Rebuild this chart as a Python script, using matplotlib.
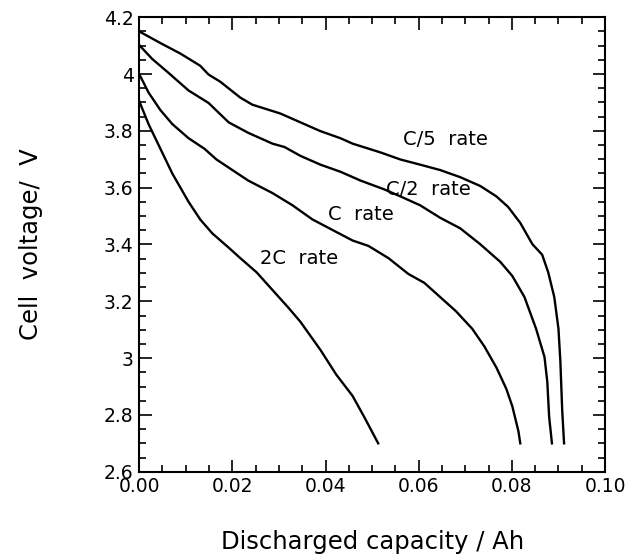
import matplotlib
matplotlib.use("Agg")
import matplotlib.pyplot as plt
from matplotlib.ticker import MultipleLocator, FormatStrFormatter, FuncFormatter

# discharge curves (capacity Ah, voltage V)
c5_x = [0.0, 0.00455, 0.00884, 0.0131, 0.0149, 0.0174, 0.0217, 0.0243, 0.0303, 0.0346,
        0.0389, 0.0432, 0.0458, 0.0518, 0.0561, 0.0603, 0.0646, 0.0689, 0.0732, 0.0767,
        0.0792, 0.0818, 0.0844, 0.0865, 0.0878, 0.0891, 0.0900, 0.0904, 0.0908, 0.0912]
c5_y = [4.150, 4.109, 4.072, 4.029, 3.998, 3.973, 3.917, 3.892, 3.861, 3.830,
        3.799, 3.774, 3.755, 3.724, 3.699, 3.681, 3.662, 3.637, 3.606, 3.569,
        3.532, 3.476, 3.401, 3.364, 3.302, 3.215, 3.103, 2.991, 2.817, 2.700]

c2_x = [0.0, 0.0028, 0.0063, 0.0106, 0.0149, 0.0192, 0.0234, 0.0286, 0.0312, 0.0346,
        0.0389, 0.0432, 0.0475, 0.0526, 0.0561, 0.0603, 0.0646, 0.0689, 0.0732, 0.0775,
        0.0801, 0.0827, 0.0852, 0.0870, 0.0876, 0.0880, 0.0886]
c2_y = [4.102, 4.053, 4.004, 3.942, 3.898, 3.830, 3.793, 3.755, 3.743, 3.712,
        3.681, 3.656, 3.625, 3.594, 3.569, 3.538, 3.494, 3.457, 3.401, 3.339,
        3.289, 3.215, 3.103, 3.004, 2.917, 2.793, 2.700]

c1_x = [0.0, 0.002, 0.00455, 0.0071, 0.0106, 0.0140, 0.0166, 0.0200, 0.0234, 0.0286,
        0.0329, 0.0372, 0.0415, 0.0458, 0.0492, 0.0535, 0.0578, 0.0612, 0.0646, 0.0680,
        0.0715, 0.0741, 0.0767, 0.0788, 0.0801, 0.0814, 0.0818]
c1_y = [4.000, 3.935, 3.873, 3.824, 3.774, 3.737, 3.699, 3.662, 3.625, 3.581,
        3.538, 3.488, 3.451, 3.414, 3.395, 3.352, 3.296, 3.265, 3.215, 3.165,
        3.103, 3.041, 2.966, 2.892, 2.830, 2.743, 2.700]

c2c_x = [0.0, 0.002, 0.00455, 0.0071, 0.0106, 0.0131, 0.0157, 0.0192, 0.0217, 0.0252,
         0.0286, 0.0320, 0.0346, 0.0389, 0.0423, 0.0458, 0.0483, 0.0513]
c2c_y = [3.905, 3.824, 3.737, 3.650, 3.550, 3.488, 3.439, 3.389, 3.352, 3.302,
         3.240, 3.178, 3.128, 3.029, 2.942, 2.867, 2.793, 2.700]

labels = ["C/5  rate", "C/2  rate", "C  rate", "2C  rate"]
label_pos = [(0.0567, 3.771), (0.0530, 3.595), (0.0406, 3.504), (0.0260, 3.349)]

fig = plt.figure(figsize=(6.27, 5.55), dpi=100)
ax = fig.add_axes([0.222, 0.150, 0.743, 0.819])

for xs, ys in [(c5_x, c5_y), (c2_x, c2_y), (c1_x, c1_y), (c2c_x, c2c_y)]:
    ax.plot(xs, ys, color="black", lw=1.7)

for txt, (tx, ty) in zip(labels, label_pos):
    ax.text(tx, ty, txt, fontsize=14, va="center", ha="left")

ax.set_xlim(0, 0.10)
ax.set_ylim(2.6, 4.2)
ax.xaxis.set_major_locator(MultipleLocator(0.02))
ax.xaxis.set_minor_locator(MultipleLocator(0.005))
ax.yaxis.set_major_locator(MultipleLocator(0.2))
ax.yaxis.set_minor_locator(MultipleLocator(0.05))
ax.xaxis.set_major_formatter(FormatStrFormatter("%.2f"))
ax.yaxis.set_major_formatter(FuncFormatter(lambda v, p: "%g" % round(v, 2)))

ax.tick_params(which="both", direction="in", top=True, right=True, width=1.2)
ax.tick_params(which="major", length=9, labelsize=13.5, pad=4)
ax.tick_params(which="minor", length=5)
for s in ax.spines.values():
    s.set_linewidth(1.5)

ax.set_xlabel("Discharged capacity / Ah", fontsize=17.5, labelpad=24)
ax.set_ylabel("Cell  voltage/  V", fontsize=17.5, labelpad=44)

fig.savefig("out.png", dpi=100)
